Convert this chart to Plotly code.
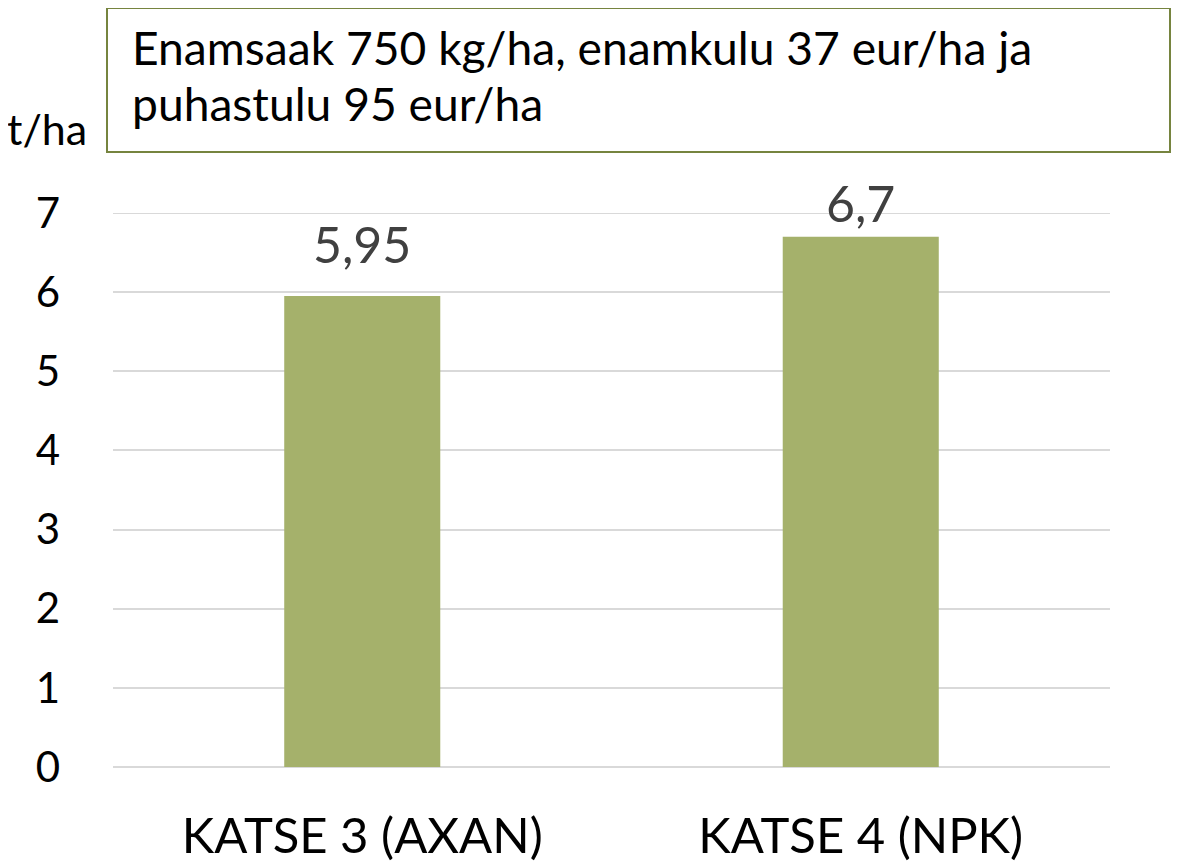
import plotly.graph_objects as go

categories = ["KATSE 3 (AXAN)", "KATSE 4 (NPK)"]
values = [5.95, 6.7]
y_ticks = [0, 1, 2, 3, 4, 5, 6, 7]
box_lines = ["Enamsaak 750 kg/ha, enamkulu 37 eur/ha ja", "puhastulu 95 eur/ha"]
unit_label = "t/ha"

FONT = "Lato"
BAR_COLOR = "#A5B16B"
LABEL_SHIFTS = [20, 2]

# page body has an 8px offset; work in screen pixels and convert
OFF = 8
SW, SH = 1180, 867
W, H = SW - OFF, SH - OFF
# plot area in screen pixels
X0, X1, Y0, Y1 = 113, 1110, 213, 767
L, R, T, B = X0 - OFF, W - (X1 - OFF), Y0 - OFF, H - (Y1 - OFF)
pw, ph = X1 - X0, Y1 - Y0


def px(x):
    return (x - X0) / pw


def py(y):
    return (Y1 - y) / ph


fig = go.Figure()
fig.add_trace(go.Bar(
    x=categories, y=values, width=0.313,
    marker=dict(color=BAR_COLOR, line=dict(width=0)),
    hoverinfo="skip",
))

annotations = []
for c, v, s in zip(categories, values, LABEL_SHIFTS):
    annotations.append(dict(
        x=c, y=v, xref="x", yref="y", text=f"{v:g}".replace(".", ","),
        showarrow=False, yanchor="bottom", yshift=s,
        font=dict(family=FONT, size=50, color="#404040"),
    ))

annotations.append(dict(x=px(130), y=py(47), xref="paper", yref="paper",
                        text=box_lines[0], showarrow=False, xanchor="left", yanchor="middle",
                        font=dict(family=FONT, size=46.2, color="#000000")))
annotations.append(dict(x=px(130), y=py(103), xref="paper", yref="paper",
                        text=box_lines[1], showarrow=False, xanchor="left", yanchor="middle",
                        font=dict(family=FONT, size=46.2, color="#000000")))
annotations.append(dict(x=px(47), y=py(128), xref="paper", yref="paper",
                        text=unit_label, showarrow=False, xanchor="center", yanchor="middle",
                        font=dict(family=FONT, size=43, color="#000000")))

fig.add_shape(type="rect", xref="paper", yref="paper",
              x0=px(107), x1=px(1170), y0=py(152), y1=py(8),
              line=dict(color="#76843F", width=2), fillcolor="rgba(0,0,0,0)")
# top gridline at the range edge
fig.add_shape(type="line", xref="x domain", yref="y", x0=0, x1=1, y0=y_ticks[-1], y1=y_ticks[-1],
              line=dict(color="#D9D9D9", width=2), layer="below")

fig.update_layout(
    width=W, height=H, autosize=False,
    margin=dict(l=L, r=R, t=T, b=B, pad=0),
    plot_bgcolor="white", paper_bgcolor="white",
    showlegend=False,
    annotations=annotations,
    xaxis=dict(showgrid=False, showline=False, zeroline=False, ticks="",
               automargin=False,
               tickfont=dict(family=FONT, size=49, color="#000000"),
               ticklabelstandoff=36),
    yaxis=dict(range=[0, 7], tickvals=y_ticks, showgrid=True, gridcolor="#D9D9D9", gridwidth=2,
               automargin=False,
               zeroline=True, zerolinecolor="#D9D9D9", zerolinewidth=2, showline=False, ticks="",
               tickfont=dict(family=FONT, size=42, color="#000000"),
               ticklabelstandoff=52),
)

fig.write_html("out.html")
